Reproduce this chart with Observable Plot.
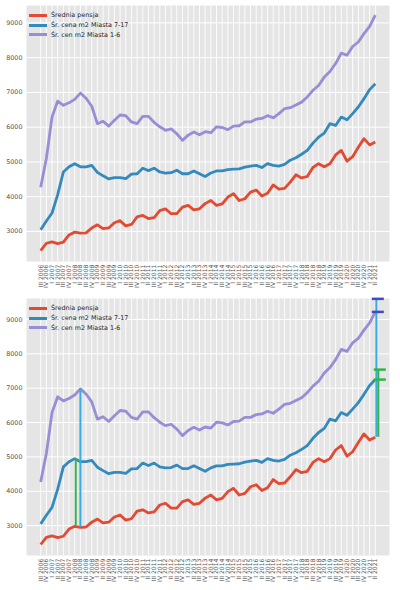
<!DOCTYPE html>
<html><head><meta charset="utf-8">
<script src="https://cdn.jsdelivr.net/npm/d3@7"></script>
<script src="https://cdn.jsdelivr.net/npm/@observablehq/plot@0.6"></script>
<style>
body{margin:0;background:#fff;font-family:"DejaVu Sans",sans-serif;}
#root{width:400px;}
.panel{position:relative;width:400px;height:295px;}
.panel svg{display:block;}
.legend{position:absolute;left:29px;font-size:6.4px;color:#262626;line-height:1;}
.legend .row{display:flex;align-items:center;height:9.6px;}
.legend .sw{display:inline-block;width:18px;height:3px;margin-right:4px;}
</style></head><body><div id="root"></div>
<script>
const quarters = [
 "III 2006","IV 2006",
 "I 2007","II 2007","III 2007","IV 2007",
 "I 2008","II 2008","III 2008","IV 2008",
 "I 2009","II 2009","III 2009","IV 2009",
 "I 2010","II 2010","III 2010","IV 2010",
 "I 2011","II 2011","III 2011","IV 2011",
 "I 2012","II 2012","III 2012","IV 2012",
 "I 2013","II 2013","III 2013","IV 2013",
 "I 2014","II 2014","III 2014","IV 2014",
 "I 2015","II 2015","III 2015","IV 2015",
 "I 2016","II 2016","III 2016","IV 2016",
 "I 2017","II 2017","III 2017","IV 2017",
 "I 2018","II 2018","III 2018","IV 2018",
 "I 2019","II 2019","III 2019","IV 2019",
 "I 2020","II 2020","III 2020","IV 2020",
 "I 2021","II 2021"
];
const pensja = [2450,2660,2700,2650,2690,2900,2980,2950,2960,3100,
 3190,3080,3100,3250,3310,3160,3200,3420,3460,3370,
 3400,3600,3650,3510,3510,3700,3750,3620,3650,3800,
 3890,3750,3790,3990,4085,3890,3940,4130,4190,4020,
 4100,4340,4220,4240,4420,4630,4540,4580,4840,4950,
 4860,4950,5200,5330,5020,5150,5420,5670,5490,5570];
const miasta717 = [3050,3300,3530,4060,4710,4860,4950,4860,4860,4900,
 4700,4600,4510,4550,4550,4520,4650,4660,4820,4750,
 4820,4710,4680,4690,4760,4660,4660,4740,4660,4580,
 4680,4740,4740,4780,4790,4800,4850,4880,4900,4840,
 4950,4900,4880,4930,5050,5120,5220,5330,5540,5710,
 5830,6100,6050,6290,6210,6390,6580,6820,7080,7250];
const miasta16 = [4270,5100,6290,6750,6630,6700,6800,6980,6830,6600,
 6100,6170,6030,6200,6350,6330,6150,6100,6310,6310,
 6140,6010,5910,5950,5810,5620,5770,5860,5780,5870,
 5840,6010,5990,5930,6030,6040,6150,6150,6230,6250,
 6330,6270,6390,6530,6560,6640,6720,6870,7060,7200,
 7440,7600,7830,8130,8070,8320,8450,8690,8900,9220];
const seriesNames = ["Średnia pensja","Śr. cena m2 Miasta 7-17","Śr. cen m2 Miasta 1-6"];
const seriesColors = ["#E24A33","#348ABD","#988ED5"];
const yTicks = [3000,4000,5000,6000,7000,8000,9000];

const rows = quarters.map((q,i)=>({q, pensja: pensja[i], m717: miasta717[i], m16: miasta16[i]}));
const keys = ["pensja","m717","m16"];

// annotation anchors, derived from the data
const iB = d3.maxIndex(miasta717.slice(0,20));
const iP = d3.maxIndex(miasta16.slice(0,20));
const last = quarters.length - 1;
const gapB = miasta717[iB] - pensja[iB];
const gapP = miasta16[iP] - pensja[iP];
const cyan = "#36ADDE", green = "#33B24C", capBlue = "#4747C6";

function panel(domain, marginTop, marginBottom, annotate) {
  const marks = [
    Plot.frame({fill:"#E5E5E5", stroke:"none"}),
    Plot.gridX(quarters, {stroke:"#fff", strokeOpacity:1, strokeWidth:0.9}),
    Plot.gridY(yTicks, {stroke:"#fff", strokeOpacity:1, strokeWidth:1}),
    Plot.axisY({ticks: yTicks, tickSize:0, tickPadding:4, fontSize:6.4, fill:"#555", label:null, tickFormat: d=>String(d)}),
    Plot.axisX({ticks: quarters, tickSize:0, tickPadding:3, tickRotate:-90, fontSize:6.1, fill:"#555", label:null}),
    ...keys.map((k,j)=>Plot.line(rows, {x:"q", y:k, stroke: seriesColors[j], strokeWidth:2.8, strokeLinejoin:"round", strokeLinecap:"butt"}))
  ];
  if (annotate) {
    marks.push(
      Plot.ruleX([quarters[iB]], {y1: pensja[iB], y2: miasta717[iB], stroke: green, strokeWidth:2, dx:1}),
      Plot.ruleX([quarters[iP]], {y1: pensja[iP], y2: miasta16[iP], stroke: cyan, strokeWidth:2}),
      Plot.ruleX([quarters[last]], {y1: pensja[last], y2: pensja[last] + gapP, stroke: cyan, strokeWidth:2, dx:1}),
      Plot.ruleX([quarters[last]], {y1: pensja[last], y2: pensja[last] + gapB, stroke: green, strokeWidth:2, dx:3}),
      Plot.ruleY([pensja[last] + gapP, miasta16[last]], {x1: ()=>quarters[last], x2: ()=>quarters[last], insetLeft:-3, insetRight:-9, stroke: capBlue, strokeWidth:2.5}),
      Plot.ruleY([pensja[last] + gapB, miasta717[last]], {x1: ()=>quarters[last], x2: ()=>quarters[last], insetLeft:-1, insetRight:-11, stroke: green, strokeWidth:2.5})
    );
  }
  const svg = Plot.plot({
    width: 400, height: 295,
    marginLeft: 26, marginRight: 11, marginTop, marginBottom,
    style: {fontFamily: '"DejaVu Sans", sans-serif', fontSize: "6.4px", background: "#fff"},
    x: {type:"point", domain: quarters, padding: 2.5, label: null},
    y: {domain, axis: null, label: null},
    marks
  });
  const div = document.createElement("div");
  div.className = "panel";
  div.appendChild(svg);
  const lg = document.createElement("div");
  lg.className = "legend";
  lg.style.top = (marginTop + 5.8) + "px";
  seriesNames.forEach((n,j)=>{
    const r = document.createElement("div");
    r.className = "row";
    const sw = document.createElement("span");
    sw.className = "sw"; sw.style.background = seriesColors[j];
    const t = document.createElement("span");
    t.textContent = n;
    r.appendChild(sw); r.appendChild(t);
    lg.appendChild(r);
  });
  div.appendChild(lg);
  document.getElementById("root").appendChild(div);
}
panel([2135, 9500], 5, 34, false);
panel([2130, 9610], 3, 35, true);
</script></body></html>
